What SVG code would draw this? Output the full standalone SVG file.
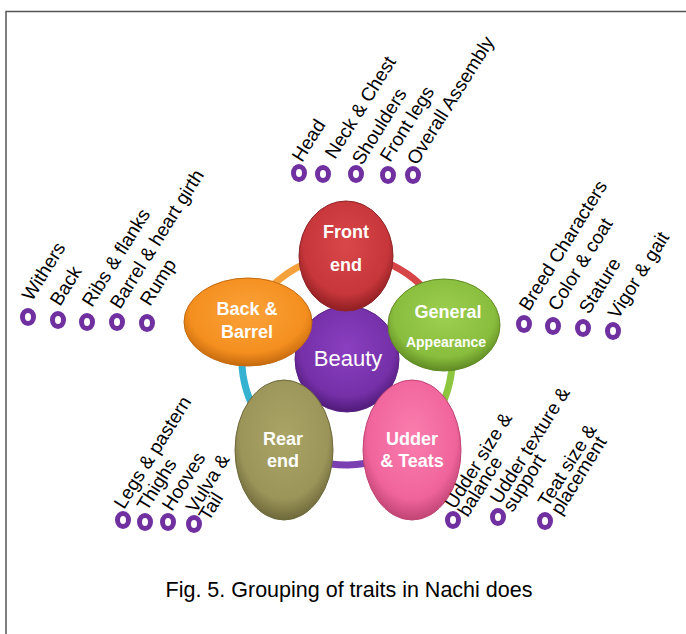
<svg xmlns="http://www.w3.org/2000/svg" width="686" height="634" viewBox="0 0 686 634">
<style>
.lbl{font-family:"Liberation Sans",Arial,sans-serif;font-size:19px;fill:#000}
.mk{fill:#fff;stroke:#7030A0;stroke-width:5}
.nt{font-family:"Liberation Sans",Arial,sans-serif;font-weight:bold;font-size:18px;fill:#fff;text-anchor:middle}
.sm{font-size:14px}
.ring{fill:none;stroke-width:7;stroke-linecap:butt}
.cap{font-family:"Liberation Sans",Arial,sans-serif;font-size:21.5px;fill:#000;text-anchor:middle}
</style>
<defs>
<radialGradient id="gRed" cx="50%" cy="40%" r="60%"><stop offset="0" stop-color="#d9474a"/><stop offset="0.75" stop-color="#c6363a"/><stop offset="1" stop-color="#8f1f22"/></radialGradient>
<radialGradient id="gOrange" cx="50%" cy="40%" r="60%"><stop offset="0" stop-color="#fba23a"/><stop offset="0.75" stop-color="#f48f1f"/><stop offset="1" stop-color="#c56a0e"/></radialGradient>
<radialGradient id="gGreen" cx="50%" cy="40%" r="60%"><stop offset="0" stop-color="#9dcf50"/><stop offset="0.75" stop-color="#89bd3d"/><stop offset="1" stop-color="#5f8a24"/></radialGradient>
<radialGradient id="gPurple" cx="50%" cy="40%" r="60%"><stop offset="0" stop-color="#8a3fc0"/><stop offset="0.75" stop-color="#7530a8"/><stop offset="1" stop-color="#4f1a78"/></radialGradient>
<radialGradient id="gOlive" cx="50%" cy="40%" r="60%"><stop offset="0" stop-color="#aaa466"/><stop offset="0.75" stop-color="#9c955a"/><stop offset="1" stop-color="#6e693a"/></radialGradient>
<radialGradient id="gPink" cx="50%" cy="40%" r="60%"><stop offset="0" stop-color="#fa7eae"/><stop offset="0.75" stop-color="#f0649c"/><stop offset="1" stop-color="#c04474"/></radialGradient>
</defs>
<rect width="686" height="634" fill="#fff"/>
<path d="M6,634 V11.5 H686" fill="none" stroke="#555" stroke-width="1.5"/>

<g id="connectors">
<path class="ring" stroke="#d64547" d="M347,255 A105,105 0 0 1 445.67,324.09"/>
<path class="ring" stroke="#8cc63f" d="M445.67,324.09 A105,105 0 0 1 408.72,444.95"/>
<path class="ring" stroke="#7a3fb0" d="M408.72,444.95 A105,105 0 0 1 286.77,446.01"/>
<path class="ring" stroke="#35b1d2" d="M286.77,446.01 A105,105 0 0 1 248.97,322.37"/>
<path class="ring" stroke="#f6a23c" d="M248.97,322.37 A105,105 0 0 1 347,255"/>
</g>

<g id="beauty">
<ellipse cx="347" cy="359" rx="52" ry="53" fill="url(#gPurple)" stroke="#5a2285" stroke-width="1"/>
<text x="348" y="366" font-family="'Liberation Sans',Arial,sans-serif" font-size="22" fill="#fff" text-anchor="middle">Beauty</text>
</g>
<g id="front-end">
<ellipse cx="346" cy="256" rx="47" ry="55" fill="url(#gRed)" stroke="#8f2527" stroke-width="1"/>
<text class="nt" x="346" y="238">Front</text>
<text class="nt" x="346" y="271">end</text>
</g>
<g id="back-barrel">
<ellipse cx="248" cy="322" rx="64" ry="44" fill="url(#gOrange)" stroke="#c46a10" stroke-width="1"/>
<text class="nt" x="247" y="315">Back &amp;</text>
<text class="nt" x="247" y="338">Barrel</text>
</g>
<g id="general-appearance">
<ellipse cx="444" cy="325" rx="56" ry="46" fill="url(#gGreen)" stroke="#5f8a24" stroke-width="1"/>
<text class="nt" x="448" y="318">General</text>
<text class="nt sm" x="446" y="347">Appearance</text>
</g>
<g id="rear-end">
<ellipse cx="284" cy="450" rx="49" ry="70" fill="url(#gOlive)" stroke="#6e693a" stroke-width="1"/>
<text class="nt" x="283" y="445">Rear</text>
<text class="nt" x="283" y="467">end</text>
</g>
<g id="udder-teats">
<ellipse cx="412" cy="450" rx="49" ry="70" fill="url(#gPink)" stroke="#c04474" stroke-width="1"/>
<text class="nt" x="412" y="445">Udder</text>
<text class="nt" x="412" y="467">&amp; Teats</text>
</g>

<g id="front-traits">
<ellipse class="mk" cx="299" cy="173" rx="5.5" ry="6.5"/>
<ellipse class="mk" cx="323" cy="174" rx="5.5" ry="6.5"/>
<ellipse class="mk" cx="356" cy="174" rx="5.5" ry="6.5"/>
<ellipse class="mk" cx="388" cy="175" rx="5.5" ry="6.5"/>
<ellipse class="mk" cx="413" cy="175" rx="5.5" ry="6.5"/>
<text class="lbl" transform="translate(302,163) rotate(-58)">Head</text>
<text class="lbl" transform="translate(335,160) rotate(-58)">Neck &amp; Chest</text>
<text class="lbl" transform="translate(362,166) rotate(-58)">Shoulders</text>
<text class="lbl" transform="translate(390,163) rotate(-58)">Front legs</text>
<text class="lbl" transform="translate(417,166) rotate(-58)">Overall Assembly</text>
</g>

<g id="back-traits">
<ellipse class="mk" cx="28" cy="317" rx="5.5" ry="6.5"/>
<ellipse class="mk" cx="58" cy="320" rx="5.5" ry="6.5"/>
<ellipse class="mk" cx="87" cy="322" rx="5.5" ry="6.5"/>
<ellipse class="mk" cx="117" cy="322" rx="5.5" ry="6.5"/>
<ellipse class="mk" cx="147" cy="323" rx="5.5" ry="6.5"/>
<text class="lbl" transform="translate(32,302) rotate(-58)">Withers</text>
<text class="lbl" transform="translate(60,307) rotate(-58)">Back</text>
<text class="lbl" transform="translate(92,308) rotate(-58)">Ribs &amp; flanks</text>
<text class="lbl" transform="translate(120,310) rotate(-58)">Barrel &amp; heart girth</text>
<text class="lbl" transform="translate(150,307) rotate(-58)">Rump</text>
</g>

<g id="general-traits">
<ellipse class="mk" cx="524" cy="324" rx="5.5" ry="6.5"/>
<ellipse class="mk" cx="553" cy="326" rx="5.5" ry="6.5"/>
<ellipse class="mk" cx="583" cy="328" rx="5.5" ry="6.5"/>
<ellipse class="mk" cx="613" cy="331" rx="5.5" ry="6.5"/>
<text class="lbl" transform="translate(529,312) rotate(-58)">Breed Characters</text>
<text class="lbl" transform="translate(558,312) rotate(-58)">Color &amp; coat</text>
<text class="lbl" transform="translate(589,315) rotate(-58)">Stature</text>
<text class="lbl" transform="translate(618,320) rotate(-58)">Vigor &amp; gait</text>
</g>

<g id="rear-traits">
<ellipse class="mk" cx="123" cy="520" rx="5.5" ry="6.5"/>
<ellipse class="mk" cx="145" cy="522" rx="5.5" ry="6.5"/>
<ellipse class="mk" cx="168" cy="522" rx="5.5" ry="6.5"/>
<ellipse class="mk" cx="194" cy="524" rx="5.5" ry="6.5"/>
<text class="lbl" transform="translate(124,510) rotate(-58)">Legs &amp; pastern</text>
<text class="lbl" transform="translate(147,512) rotate(-58)">Thighs</text>
<text class="lbl" transform="translate(172,512) rotate(-58)">Hooves</text>
<text class="lbl" transform="translate(196,514) rotate(-58)"><tspan x="0" y="0">Vulva &amp;</tspan><tspan x="0" y="15">Tail</tspan></text>
</g>

<g id="udder-traits">
<ellipse class="mk" cx="453" cy="520" rx="5.5" ry="6.5"/>
<ellipse class="mk" cx="498" cy="517" rx="5.5" ry="6.5"/>
<ellipse class="mk" cx="545" cy="521" rx="5.5" ry="6.5"/>
<text class="lbl" transform="translate(455,510) rotate(-58)"><tspan x="0" y="0">Udder size &amp;</tspan><tspan x="0" y="15">balance</tspan></text>
<text class="lbl" transform="translate(500,505) rotate(-58)"><tspan x="0" y="0">Udder texture &amp;</tspan><tspan x="0" y="15">support</tspan></text>
<text class="lbl" transform="translate(548,508) rotate(-58)"><tspan x="0" y="0">Teat size &amp;</tspan><tspan x="0" y="15">placement</tspan></text>
</g>

<text class="cap" x="349" y="597">Fig. 5. Grouping of traits in Nachi does</text>
</svg>
